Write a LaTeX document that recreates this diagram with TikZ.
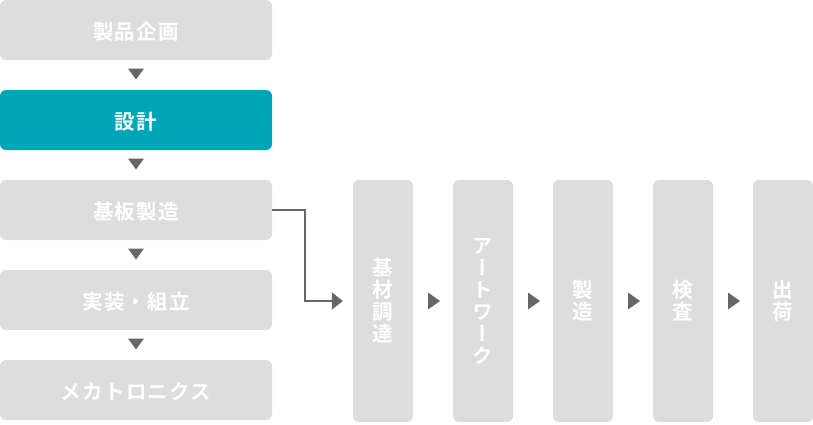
\documentclass[tikz,border=0pt]{standalone}
\usepackage{fontspec}
\newfontfamily\jpfont[LetterSpace=6,BoldFont={Noto Sans CJK JP Bold}]{Noto Sans CJK JP}
\newfontfamily\jpvfont[RawFeature={+vert},BoldFont={Noto Sans CJK JP Bold}]{Noto Sans CJK JP}
\usetikzlibrary{arrows.meta,calc}
\definecolor{boxgray}{HTML}{DDDDDD}
\definecolor{tealbox}{HTML}{00A6B7}
\definecolor{arrgray}{HTML}{666666}
\newcommand\downtri[2]{\fill[tri] ($(#1.south)!0.5!(#2.north)$) ++(-8,6.5) -- ++(16,0) -- ++(-8,-11) -- cycle;}
\newcommand\righttri[2]{\fill[tri] ($(#1.east)!0.5!(#2.west)$) ++(-5,8.5) -- ++(12,-8.5) -- ++(-12,-8.5) -- cycle;}
\begin{document}
\begin{tikzpicture}[x=1pt,y=1pt,
 stage/.style={rounded corners=6pt, fill=boxgray, text=white, minimum width=272pt, minimum height=60pt, inner sep=0pt, text height=20pt, text depth=2pt, font=\jpfont\bfseries\fontsize{20.5}{22}\selectfont},
 active/.style={stage, fill=tealbox},
 substage/.style={rounded corners=6pt, fill=boxgray, text=white, minimum width=60pt, minimum height=242pt, inner sep=0pt, align=center, font=\jpvfont\bfseries\fontsize{20.5}{22}\selectfont},
 tri/.style={fill=arrgray},
 conn/.style={draw=arrgray, line width=2.2pt, -{Triangle[length=11pt,width=17pt]}}]
\useasboundingbox (0,0) rectangle (813,-424);
\node[stage] (s1) at (136,-30) {製品企画};
\node[active] (s2) at (136,-120) {設計};
\node[stage] (s3) at (136,-210) {基板製造};
\node[stage] (s4) at (136,-300) {実装・組立};
\node[stage] (s5) at (136,-390) {メカトロニクス};
\node[substage] (r1) at (383,-301) {基\\材\\調\\達};
\node[substage] (r2) at (483,-301) {ア\\ー\\ト\\ワ\\ー\\ク};
\node[substage] (r3) at (583,-301) {製\\造};
\node[substage] (r4) at (683,-301) {検\\査};
\node[substage] (r5) at (783,-301) {出\\荷};
\downtri{s1}{s2}
\downtri{s2}{s3}
\downtri{s3}{s4}
\downtri{s4}{s5}
\righttri{r1}{r2}
\righttri{r2}{r3}
\righttri{r3}{r4}
\righttri{r4}{r5}
\draw[conn] (s3.east) -- ++(33,0) |- ([xshift=-10pt]r1.west);
\end{tikzpicture}
\end{document}
